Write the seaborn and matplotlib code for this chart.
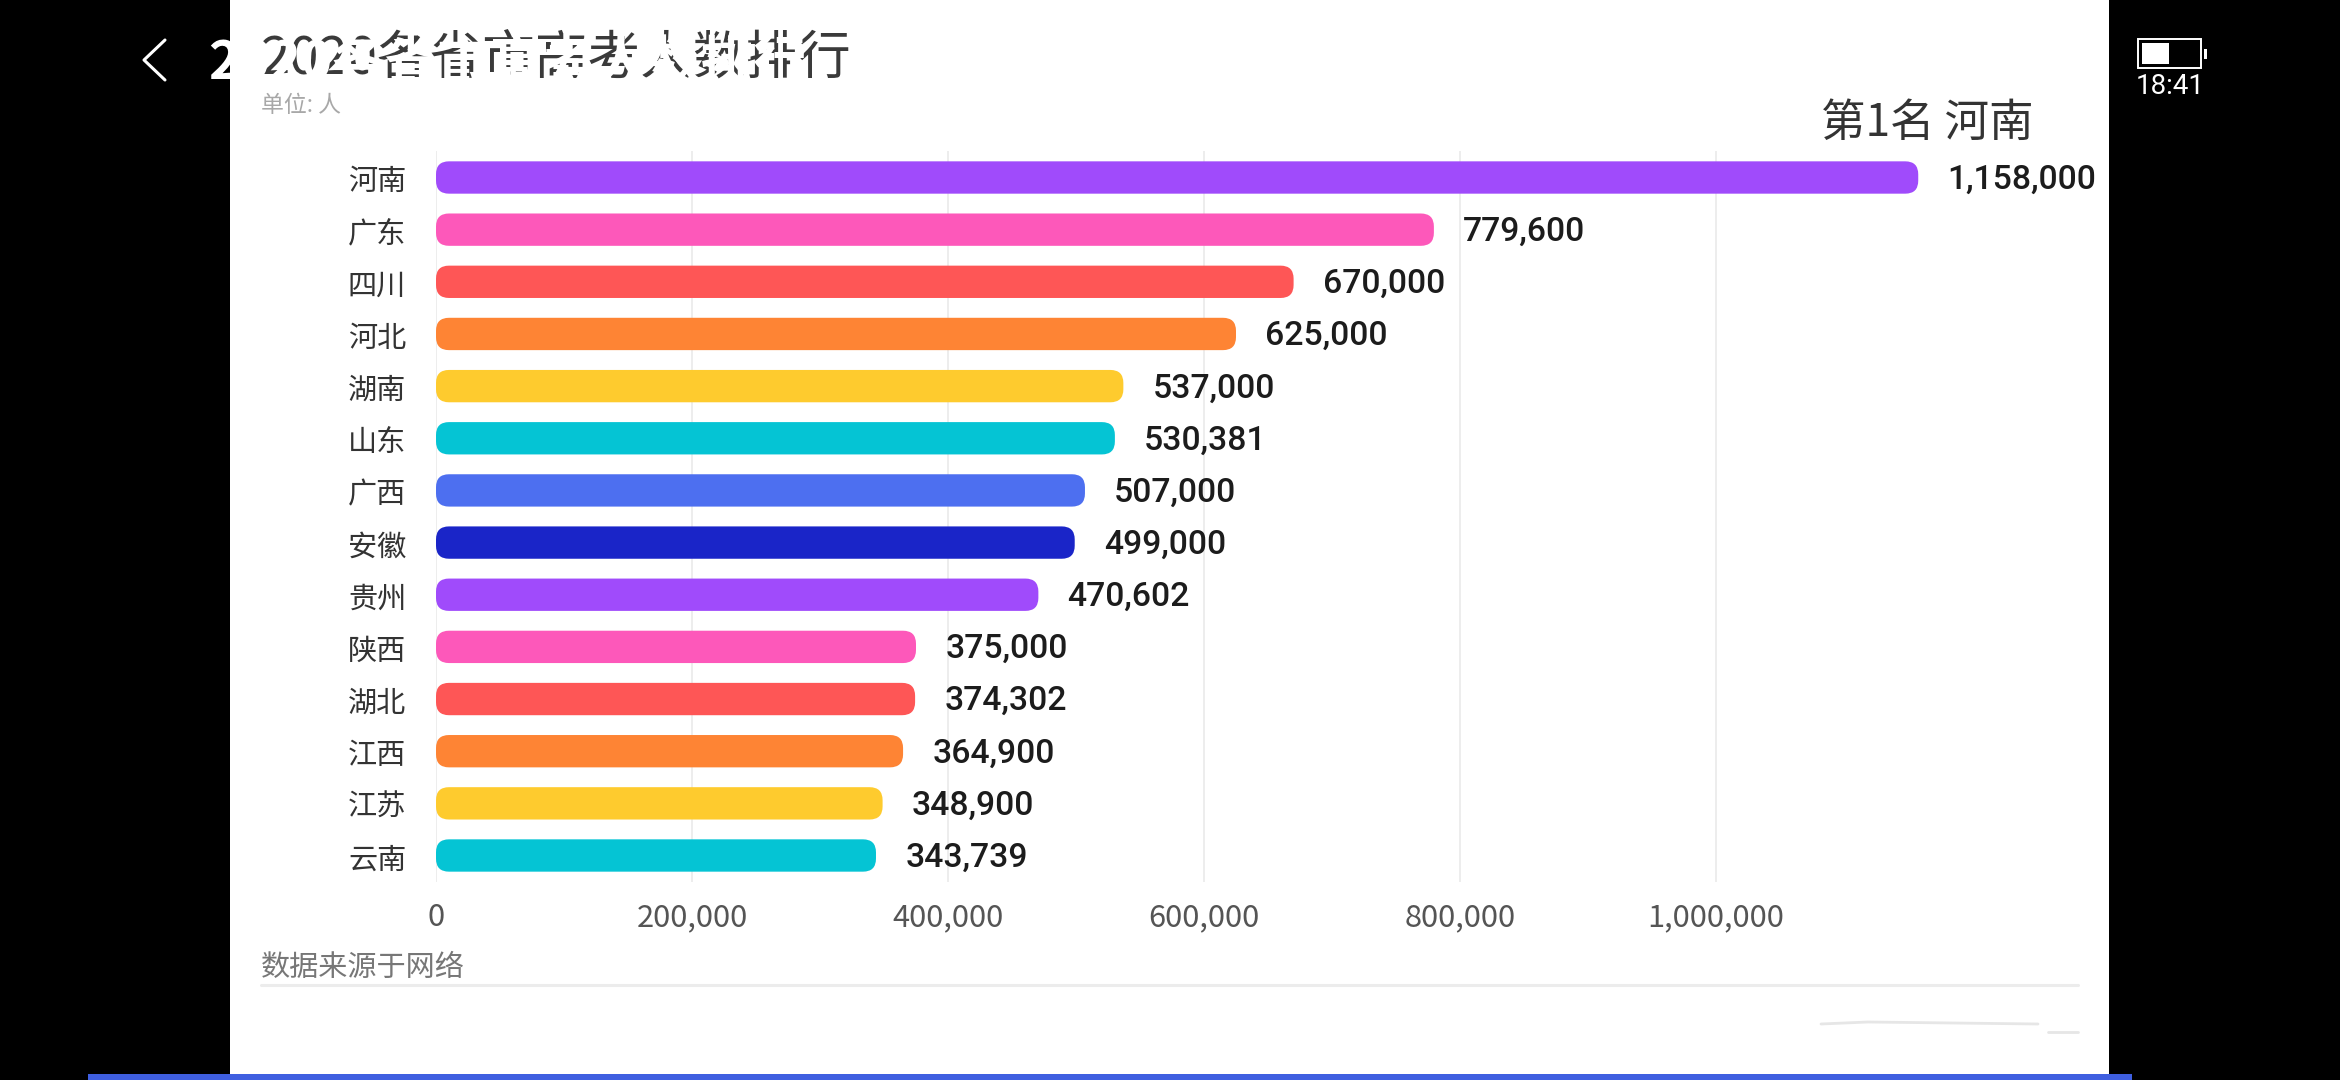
import matplotlib
matplotlib.use('Agg')
from matplotlib import pyplot as plt
from matplotlib.patches import FancyBboxPatch, Rectangle
from matplotlib.transforms import ScaledTranslation
import seaborn as sns
import pandas as pd

provinces = ['河南', '广东', '四川', '河北', '湖南', '山东', '广西',
             '安徽', '贵州', '陕西', '湖北', '江西', '江苏', '云南']
students = [1158000, 779600, 670000, 625000, 537000, 530381, 507000,
            499000, 470602, 375000, 374302, 364900, 348900, 343739]
bar_colors = ['#a04bfb', '#fd58ba', '#fe5656', '#fe8434', '#fecb2e', '#05c4d4', '#4d6ff0',
              '#1a25c8', '#a04bfb', '#fd58ba', '#fe5656', '#fe8434', '#fecb2e', '#05c4d4']
x_ticks = [0, 200000, 400000, 600000, 800000, 1000000]

title = '2020各省市高考人数排行'
unit_text = '单位: 人'
rank_text = '第1名 河南'
source_text = '数据来源于网络'
clock_text = '18:41'

W, H = 2340, 1080
CJK = ['Noto Sans CJK SC', 'DejaVu Sans']

sns.set_theme(style='white')
plt.rcParams['font.family'] = CJK

df = pd.DataFrame({'province': provinces, 'students': students})

fig = plt.figure(figsize=(W / 100, H / 100), dpi=100, facecolor='black')

# phone screen around the video, drawn in pixels
bg = fig.add_axes([0, 0, 1, 1])
bg.set_xlim(0, W)
bg.set_ylim(H, 0)
bg.axis('off')
bg.add_patch(Rectangle((230, 0), 1879, 1074, fc='white', ec='none'))
bg.add_patch(Rectangle((88, 1074), 2044, 6, fc='#3f5fe0', ec='none'))
bg.plot([261, 2078], [985, 985], color='#ececec', lw=2.2)
bg.plot([1821, 1868, 2038], [1024, 1022, 1024], color='#e6e6e6', lw=2)
bg.plot([2048, 2078], [1032, 1032], color='#e6e6e6', lw=2)

bg.text(261, 59, title, fontsize=37.9, color='#3a3a3a', va='center', ha='left')
bg.text(208, 63, title, fontsize=37.9, color='white', fontweight='bold', va='center', ha='left')
bg.text(261, 106, unit_text, fontsize=16.5, color='#a8a8a8', va='center', ha='left')
bg.text(2034, 123, rank_text, fontsize=32, color='#333333', va='center', ha='right')
bg.text(261, 968, source_text, fontsize=21, color='#777777', va='center', ha='left')

bg.plot([165, 144, 165], [40, 60, 80], color='white', lw=2.2)
bg.add_patch(Rectangle((2138, 39), 63, 29, fc='black', ec='white', lw=1.4))
bg.add_patch(Rectangle((2142, 43), 27, 21, fc='white', ec='none'))
bg.add_patch(Rectangle((2204, 49), 3, 10, fc='white', ec='none'))
bg.text(2170, 87, clock_text, fontsize=20, color='white', family='Roboto', va='center', ha='center')

# chart area: x=0 at pixel 436, 1280 px per million, rows 52.15 px apart
px_per_unit = 1280 / 1e6
row_px = 52.15
left, right = 436, 2109
top, bottom = 177.5 - row_px / 2, 855.5 + row_px / 2
ax = fig.add_axes([left / W, 1 - bottom / H, (right - left) / W, (bottom - top) / H])
ax.patch.set_alpha(0)

sns.barplot(data=df, x='students', y='province', hue='province', palette=bar_colors,
            dodge=False, legend=False, saturation=1, width=0.62, zorder=3, ax=ax)

ax.set_xlim(0, (right - left) / px_per_unit)
ax.set_ylim(len(provinces) - 0.5, -0.5)
ax.set_xticks(x_ticks)
ax.set_xticklabels(['{:,}'.format(t) for t in x_ticks], fontsize=22.2, color='#555555')
ax.set_xlabel('')
ax.set_ylabel('')
ax.tick_params(axis='x', length=0, pad=15)
ax.tick_params(axis='y', length=0, pad=21.5, labelsize=21, labelcolor='#333333')
ax.grid(axis='x', color='#ececec', lw=1.3, zorder=0)
sns.despine(ax=ax, left=True, bottom=True, top=True, right=True)

# the labels sit a little lower in the video
nudge = ScaledTranslation(0, -1 / 72, fig.dpi_scale_trans)
for lab in ax.get_yticklabels():
    lab.set_transform(lab.get_transform() + nudge)

for c in ax.containers:
    for t in ax.bar_label(c, fmt='{:,.0f}', padding=21, fontsize=24.3, family='Roboto',
                          fontweight=500, color='#1c1c1c'):
        t.xyann = (t.xyann[0], t.xyann[1] - 1.6)

# seaborn gives square bars, swap them for rounded ones of the same size
radius = 13
r_x = radius / px_per_unit
aspect = (radius / row_px) / r_x
for p in list(ax.patches):
    rounded = FancyBboxPatch((p.get_x(), p.get_y()), p.get_width(), p.get_height(),
                             boxstyle='round,pad=0,rounding_size=%f' % r_x,
                             mutation_aspect=aspect, fc=p.get_facecolor(), ec='none', zorder=3)
    p.set_visible(False)
    ax.add_patch(rounded)

fig.savefig('out.png', dpi=100, facecolor='black')
